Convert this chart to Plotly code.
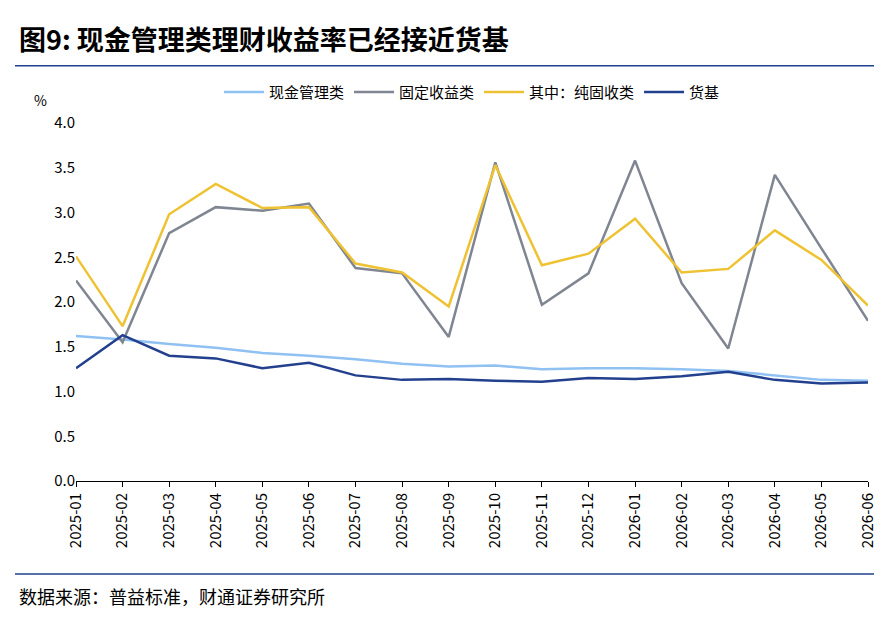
import plotly.graph_objects as go

months = ["2025-01", "2025-02", "2025-03", "2025-04", "2025-05", "2025-06",
          "2025-07", "2025-08", "2025-09", "2025-10", "2025-11", "2025-12",
          "2026-01", "2026-02", "2026-03", "2026-04", "2026-05", "2026-06"]
cash_mgmt = [1.62, 1.58, 1.53, 1.49, 1.43, 1.40, 1.36, 1.31, 1.28, 1.29, 1.25, 1.26,
             1.26, 1.25, 1.23, 1.18, 1.13, 1.12]
fixed_income = [2.24, 1.55, 2.77, 3.06, 3.02, 3.10, 2.38, 2.32, 1.61, 3.56, 1.97, 2.32,
                3.58, 2.21, 1.48, 3.42, 2.60, 1.79]
pure_fixed = [2.51, 1.73, 2.98, 3.32, 3.05, 3.06, 2.43, 2.33, 1.95, 3.53, 2.41, 2.54,
              2.93, 2.33, 2.37, 2.80, 2.47, 1.96]
mmf = [1.26, 1.63, 1.40, 1.37, 1.26, 1.32, 1.18, 1.13, 1.14, 1.12, 1.11, 1.15,
       1.14, 1.17, 1.22, 1.13, 1.09, 1.10]

font = "Noto Sans CJK SC"
fig = go.Figure()
series = [("现金管理类", cash_mgmt, "#8fc1f2"),
          ("固定收益类", fixed_income, "#7f8591"),
          ("其中：纯固收类", pure_fixed, "#eec232"),
          ("货基", mmf, "#23408e")]
for name, vals, color in series:
    fig.add_trace(go.Scatter(x=months, y=vals, name=name, mode="lines",
                             line=dict(color=color, width=2.5)))

fig.update_layout(
    width=882, height=618,
    paper_bgcolor="white", plot_bgcolor="white",
    font=dict(family=font, size=15, color="black"),
    margin=dict(l=68, r=22, t=115, b=145),
    legend=dict(orientation="h", x=0.5, xanchor="center", y=1.04, yanchor="bottom",
                font=dict(size=15), itemwidth=40, traceorder="normal"),
    xaxis=dict(type="category", tickangle=-90, showline=True, linecolor="black",
               ticks="outside", tickcolor="black", showgrid=False,
               tickfont=dict(size=15)),
    yaxis=dict(range=[0, 4], dtick=0.5, tickformat=".1f", showgrid=False,
               showline=False, tickfont=dict(size=15)),
    shapes=[
        dict(type="line", xref="paper", yref="paper", x0=-0.077, x1=1.025,
             y0=1.16, y1=1.16, line=dict(color="#1f3f8a", width=1.5)),
        dict(type="line", xref="paper", yref="paper", x0=-0.077, x1=1.025,
             y0=-0.26, y1=-0.26, line=dict(color="#1f3f8a", width=1.5)),
    ],
    annotations=[
        dict(text="<b>图9: 现金管理类理财收益率已经接近货基</b>", xref="paper", yref="paper",
             x=-0.075, y=1.175, xanchor="left", yanchor="bottom", showarrow=False,
             font=dict(size=27, family=font)),
        dict(text="%", xref="paper", yref="paper", x=-0.055, y=1.03,
             xanchor="left", yanchor="bottom", showarrow=False, font=dict(size=14)),
        dict(text="数据来源：普益标准，财通证券研究所", xref="paper", yref="paper",
             x=-0.075, y=-0.28, xanchor="left", yanchor="top", showarrow=False,
             font=dict(size=18)),
    ],
)
fig.write_html("out.html")
